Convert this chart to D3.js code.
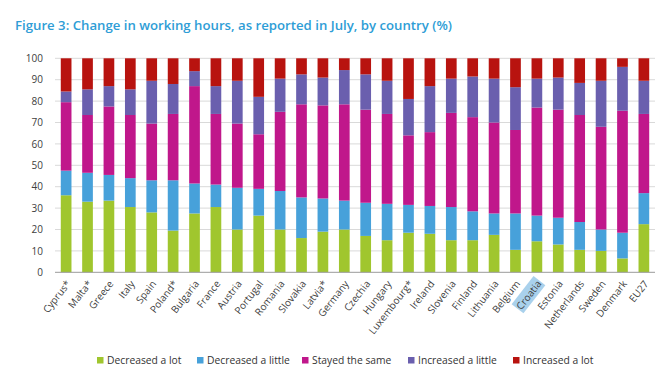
<!DOCTYPE html>
<html>
<head>
<meta charset="utf-8">
<script src="https://cdn.jsdelivr.net/npm/d3@7"></script>
<style>
  body { margin: 0; background: #fff; }
  text { font-family: "Open Sans", sans-serif; }
</style>
</head>
<body>
<div id="chart"></div>
<script>
const countries = ["Cyprus*", "Malta*", "Greece", "Italy", "Spain", "Poland*", "Bulgaria", "France", "Austria",
  "Portugal", "Romania", "Slovakia", "Latvia*", "Germany", "Czechia", "Hungary", "Luxembourg*", "Ireland",
  "Slovenia", "Finland", "Lithuania", "Belgium", "Croatia", "Estonia", "Netherlands", "Sweden", "Denmark", "EU27"]

const decreasedLot = [36, 33, 33.5, 30.5, 28, 19.5, 27.5, 30.5, 20, 26.5, 20, 16, 19, 20, 17, 15, 18.5, 18,
  15, 15, 17.5, 10.5, 14.5, 13, 10.5, 10, 6.5, 22.5]
const decreasedLittle = [11.5, 13.5, 12, 13.5, 15, 23.5, 14, 10.5, 19.5, 12.5, 18, 19, 15.5, 13.5, 15.5, 17, 13, 13,
  15.5, 13.5, 10, 17, 12, 12.5, 13, 10, 12, 14.5]
const stayedSame = [32, 27, 32, 29.5, 26.5, 31, 45.5, 33, 30, 25.5, 37, 43.5, 43.5, 45, 43.5, 42, 32.5, 34.5,
  44, 44, 42.5, 39, 50.5, 50.5, 50, 48, 57, 37]
const increasedLittle = [5, 12, 9.5, 12, 20, 14, 7, 13, 20, 17.5, 15.5, 14, 13, 16, 16.5, 15.5, 17, 21.5,
  16, 19, 20.5, 20, 13.5, 15, 15, 21.5, 20.5, 15.5]
const increasedLot = [15.5, 14.5, 13, 14.5, 10.5, 12, 6, 13, 10.5, 18, 9.5, 7.5, 9, 5.5, 7.5, 10.5, 19, 13,
  9.5, 8.5, 9.5, 13.5, 9.5, 9, 11.5, 10.5, 4, 10.5]

const seriesNames = ["Decreased a lot", "Decreased a little", "Stayed the same", "Increased a little", "Increased a lot"]
const colors = ["#a0c62e", "#47a1da", "#c0178b", "#6a5fae", "#b8130f"]
const yTicks = [0, 10, 20, 30, 40, 50, 60, 70, 80, 90, 100]

const W = 670, H = 382

const rows = countries.map((c, i) => ({
  country: c,
  "Decreased a lot": decreasedLot[i],
  "Decreased a little": decreasedLittle[i],
  "Stayed the same": stayedSame[i],
  "Increased a little": increasedLittle[i],
  "Increased a lot": increasedLot[i]
}))

const stacked = d3.stack().keys(seriesNames)(rows)

const svg = d3.select("#chart").append("svg")
  .attr("width", W)
  .attr("height", H)

// title
svg.append("text")
  .attr("x", 15)
  .attr("y", 30)
  .attr("fill", "#2e9dd6")
  .attr("font-size", 13.2)
  .attr("font-weight", 600)
  .text("Figure 3: Change in working hours, as reported in July, by country (%)")

const x = d3.scaleBand()
  .domain(countries)
  .range([55, 655])
  .paddingInner(0.5)
  .paddingOuter(0.27)

const y = d3.scaleLinear()
  .domain([0, 100])
  .range([272.3, 58.3])

// gridlines
svg.append("g")
  .selectAll("line")
  .data(yTicks.filter(d => d > 0))
  .join("line")
  .attr("x1", 55).attr("x2", 655)
  .attr("y1", d => y(d)).attr("y2", d => y(d))
  .attr("stroke", "#d9d9d9")
  .attr("stroke-width", 1)

// y axis labels
const yAxis = svg.append("g")
  .attr("transform", "translate(46,0)")
  .call(d3.axisLeft(y).tickValues(yTicks).tickSize(0).tickPadding(3))
yAxis.select(".domain").remove()
yAxis.selectAll("text")
  .attr("font-size", 10)
  .attr("fill", "#404040")
  .style("font-family", "'Open Sans', sans-serif")

// bars
svg.append("g")
  .selectAll("g")
  .data(stacked)
  .join("g")
  .attr("fill", (d, i) => colors[i])
  .selectAll("rect")
  .data(d => d)
  .join("rect")
  .attr("x", d => x(d.data.country))
  .attr("width", x.bandwidth())
  .attr("y", d => y(d[1]))
  .attr("height", d => y(d[0]) - y(d[1]))

// baseline
svg.append("line")
  .attr("x1", 55).attr("x2", 655)
  .attr("y1", y(0)).attr("y2", y(0))
  .attr("stroke", "#9a9a9a")

// x labels
const xl = svg.append("g")
  .selectAll("g")
  .data(countries)
  .join("g")
  .attr("transform", d => `translate(${x(d) + x.bandwidth() / 2 + 3},${y(0) + 10}) rotate(-52)`)

xl.each(function (d) {
  if (d === "Croatia") {
    d3.select(this).append("rect").attr("class", "hl")
  }
})

xl.append("text")
  .attr("text-anchor", "end")
  .attr("dominant-baseline", "middle")
  .attr("font-size", 10)
  .attr("fill", "#404040")
  .text(d => d)

xl.select("rect.hl").each(function () {
  const bb = this.parentNode.querySelector("text").getBBox()
  d3.select(this)
    .attr("x", bb.x - 1).attr("y", bb.y - 0.5)
    .attr("width", bb.width + 2).attr("height", bb.height + 1)
    .attr("fill", "#a9d1ec")
})

// legend
const legendX = [97, 197, 302, 408, 513]
const leg = svg.append("g")
  .selectAll("g")
  .data(seriesNames)
  .join("g")
  .attr("transform", (d, i) => `translate(${legendX[i]},357)`)

leg.append("rect")
  .attr("width", 6.5).attr("height", 6.5)
  .attr("fill", (d, i) => colors[i])

leg.append("text")
  .attr("x", 10)
  .attr("y", 7)
  .attr("font-size", 10.3)
  .attr("fill", "#333")
  .text(d => d)
</script>
</body>
</html>
